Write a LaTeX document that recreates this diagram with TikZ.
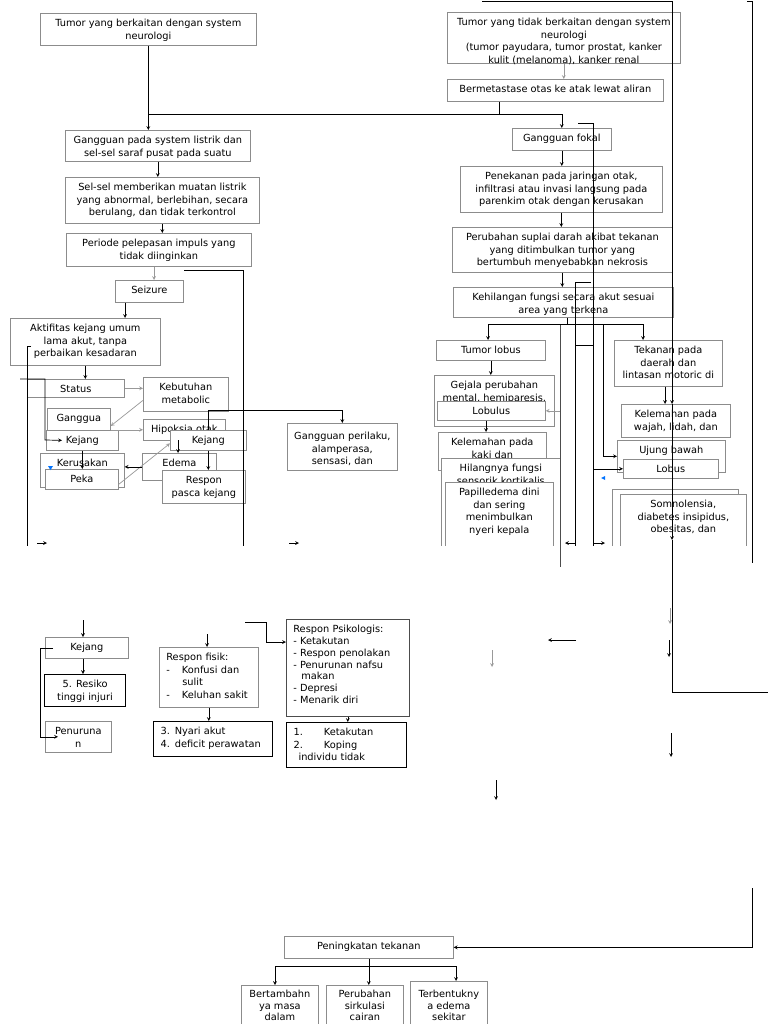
\documentclass[tikz,border=0pt]{standalone}
\usepackage{fontspec}
\setmainfont{DejaVu Sans}
\usepackage{tikz}
\usetikzlibrary{arrows}
\newcommand{\boxtext}[1]{\begin{tabular}[t]{@{}c@{}}#1\end{tabular}}

\begin{document}
\begin{tikzpicture}[
    x=1pt, y=-1pt,
    boxbase/.style={draw=black!45, fill=white, line width=0.7pt, anchor=north west, inner ysep=4pt, text height=9pt, font=\fontsize{9.8}{12.7}\selectfont},
    block/.style={boxbase, inner xsep=0pt},
    lblock/.style={boxbase, inner xsep=7pt, align=left},
    dark/.style={draw=black, line width=1.1pt},
    conn/.style={line width=0.7pt},
    arrow/.style={conn, ->, >=stealth},
    garrow/.style={arrow, black!40}
]
\fill[white] (0,0) rectangle (768,1024);
\useasboundingbox (0,0) rectangle (768,1024);
\clip (0,0) rectangle (768,1024);

% upper page (cut at the page break)
\begin{scope}
\clip (0,0) rectangle (768,545);

% left column: seizure path
\node[block, minimum width=216pt, text depth=15pt] (tumA) at (40,13) {\boxtext{Tumor yang berkaitan dengan system\\neurologi}};
\node[block, minimum width=185pt, text depth=14pt] (listrik) at (65,130) {\boxtext{Gangguan pada system listrik dan\\sel-sel saraf pusat pada suatu}};
\node[block, minimum width=194pt, text depth=29pt] (muatan) at (65,177) {\boxtext{Sel-sel memberikan muatan listrik\\yang abnormal, berlebihan, secara\\berulang, dan tidak terkontrol}};
\node[block, minimum width=185pt, text depth=16pt] (impuls) at (66,233) {\boxtext{Periode pelepasan impuls yang\\tidak diinginkan}};
\node[block, minimum width=68pt, text depth=5pt] (seizure) at (115,280) {\boxtext{Seizure}};
\node[block, minimum width=150pt, text depth=30pt] (aktif) at (10,318) {\boxtext{Aktifitas kejang umum\\lama akut, tanpa\\perbaikan kesadaran}};
\node[block, minimum width=97pt, text depth=1pt] (status) at (27,379) {\boxtext{Status}};
\node[block, minimum width=85pt, text depth=17pt] (kebutuhan) at (143,377) {\boxtext{Kebutuhan\\metabolic}};
\node[block, minimum width=63pt, text depth=11pt] (ganggua) at (47,408) {\boxtext{Ganggua}};
\node[block, minimum width=82pt, text depth=4pt] (hipoksia) at (143,419) {\boxtext{Hipoksia otak}};
\node[block, minimum width=72pt, text depth=3pt] (kejangA) at (46,430) {\boxtext{Kejang}};
\node[block, minimum width=76pt, text depth=3pt] (kejangB) at (170,430) {\boxtext{Kejang}};
\node[block, minimum width=84pt, text depth=17pt] (kerusakan) at (40,453) {\boxtext{Kerusakan}};
\node[block, minimum width=73pt, text depth=3pt] (peka) at (45,469) {\boxtext{Peka}};
\node[block, minimum width=74pt, text depth=10pt] (edema) at (142,453) {\boxtext{Edema}};
\node[block, minimum width=83pt, text depth=16pt] (respon) at (162,470) {\boxtext{Respon\\pasca kejang}};
\node[block, minimum width=110pt, text height=12pt, text depth=27pt] (perilaku) at (287,423) {\boxtext{Gangguan perilaku,\\alamperasa,\\sensasi, dan}};

% right column: focal path
\node[block, minimum width=233pt, text depth=34pt] (tumB) at (447,12) {\boxtext{Tumor yang tidak berkaitan dengan system\\neurologi\\(tumor payudara, tumor prostat, kanker\\kulit (melanoma), kanker renal}};
\node[block, minimum width=216pt, text depth=5pt] (metas) at (447,79) {\boxtext{Bermetastase otas ke atak lewat aliran}};
\node[block, minimum width=99pt, text depth=5pt] (fokal) at (512,128) {\boxtext{Gangguan fokal}};
\node[block, minimum width=202pt, text depth=29pt] (tekan) at (460,166) {\boxtext{Penekanan pada jaringan otak,\\infiltrasi atau invasi langsung pada\\parenkim otak dengan kerusakan}};
\node[block, minimum width=220pt, text depth=28pt] (suplai) at (452,227) {\boxtext{Perubahan suplai darah akibat tekanan\\yang ditimbulkan tumor yang\\bertumbuh menyebabkan nekrosis}};
\node[block, minimum width=220pt, text depth=13pt] (fungsi) at (453,287) {\boxtext{Kehilangan fungsi secara akut sesuai\\area yang terkena}};
\node[block, minimum width=109pt, text depth=3pt] (lobus1) at (436,340) {\boxtext{Tumor lobus}};
\node[block, minimum width=120pt, text depth=34pt] (gejala) at (434,375) {\boxtext{Gejala perubahan\\mental, hemiparesis,}};
\node[block, minimum width=108pt, text depth=2pt] (lobulus) at (437,401) {\boxtext{Lobulus}};
\node[block, minimum width=108pt, text depth=21pt] (kaki) at (438,432) {\boxtext{Kelemahan pada\\kaki dan}};
\node[block, minimum width=119pt, text depth=83pt] (hilang) at (441,458) {\boxtext{Hilangnya fungsi\\sensorik kortikalis}};
\node[block, minimum width=108pt, text depth=63pt] (papil) at (445,482) {\boxtext{Papilledema dini\\dan sering\\menimbulkan\\nyeri kepala}};
\node[block, minimum width=108pt, text depth=29pt] (tekanan) at (614,340) {\boxtext{Tekanan pada\\daerah dan\\lintasan motoric di}};
\node[block, minimum width=109pt, text depth=16pt] (wajah) at (621,404) {\boxtext{Kelemahan pada\\wajah, lidah, dan}};
\node[block, minimum width=108pt, text depth=15pt] (ujung) at (617,440) {\boxtext{Ujung bawah}};
\node[block, minimum width=95pt, text depth=2pt] (lobus2) at (623,459) {\boxtext{Lobus}};
\node[block, minimum width=126pt, text depth=63pt] (somnob) at (612,489) {};
\node[block, minimum width=126pt, text depth=63pt] (somno) at (620,494) {\boxtext{Somnolensia,\\diabetes insipidus,\\obesitas, dan}};

% joins at the top
\coordinate (m1) at (499,114);
\draw[conn] (m1 |- metas.south) -- (m1);
\draw[arrow] (tumA.south) -- (tumA.south |- listrik.north);
\draw[arrow] (tumA.south |- m1) -| (fokal.north);
\draw[garrow] (tumB.south) -- (tumB.south |- metas.north);

% left connections
\coordinate (sz) at (154,0);
\coordinate (sk) at (125,0);
\coordinate (ed) at (178,0);
\draw[arrow] (listrik.south) -- (listrik.south |- muatan.north);
\draw[arrow] (muatan.south) -- (muatan.south |- impuls.north);
\draw[garrow] (sz |- impuls.south) -- (sz |- seizure.north);
\coordinate (r1) at (184,270);
\coordinate (r2) at (243,560);
\draw[conn] (r1) -| (r2);
\draw[arrow] (sk |- seizure.south) -- (sk |- aktif.north);
\draw[arrow] (aktif.south) -- (aktif.south |- status.north);
\coordinate (l1) at (31,346);
\coordinate (l2) at (27,560);
\draw[conn] (l1) -| (l2);
\coordinate (l3) at (20,379);
\coordinate (l4) at (45,440);
\draw[arrow] (l3) -| (l4) -- ([xshift=16pt]kejangA.west);
\draw[garrow] (status.east) -- (status.east -| kebutuhan.west);
\draw[garrow] ([yshift=-6pt]kebutuhan.west) -- ([yshift=-18pt]ganggua.north east);
\draw[garrow] (ganggua.east |- hipoksia.west) -- (hipoksia.west);
\draw[arrow] (kejangA.south) -- (kejangA.south |- peka.north);
\draw[garrow] ([yshift=-5pt]peka.east) -- ([yshift=-3pt]kejangB.west);
\draw[arrow] (edema.west) -- (edema.west -| kerusakan.east);
\draw[arrow] (ed |- kejangB.center) -- (ed |- edema.north);
\draw[arrow] (kejangB.south) -- (kejangB.south |- respon.north);
\draw[arrow] (kejangB.north) -- ++(0,-20) -| (perilaku.north);
\coordinate (s1) at (37,543);
\coordinate (s2) at (47,543);
\draw[arrow] (s1) -- (s2);
\coordinate (s3) at (289,543);
\coordinate (s4) at (299,543);
\draw[arrow] (s3) -- (s4);

% right connections
\draw[arrow] (fokal.south) -- (fokal.south |- tekan.north);
\draw[arrow] (tekan.south) -- (tekan.south |- suplai.north);
\draw[arrow] (suplai.south) -- (suplai.south |- fungsi.north);
\coordinate (fb) at (567,324);
\coordinate (fc) at (603,324);
\coordinate (t1) at (488,0);
\coordinate (t2) at (643,0);
\coordinate (la) at (486,0);
\coordinate (tw) at (665,0);
\draw[conn] (fb |- fungsi.south) -- (fb);
\draw[arrow] (fb) -| (t1 |- lobus1.north);
\draw[arrow] (fb) -| (t2 |- tekanan.north);
\draw[arrow] (fc) |- (ujung.west);
\draw[arrow] (lobus1.south) -- (lobus1.south |- gejala.north);
\draw[arrow] (la |- lobulus.south) -- (la |- kaki.north);
\coordinate (va) at (560,325);
\draw[garrow] (va |- lobulus.east) -- (lobulus.east);
\draw[arrow] (tw |- tekanan.south) -- (tw |- wajah.north);
\coordinate (g1) at (578,123);
\coordinate (g2) at (593,560);
\draw[conn] (g1) -| (g2);
\draw[arrow] (g2 |- lobus2.west) -- (lobus2.west);
\coordinate (h1) at (591,282);
\coordinate (h2) at (575,560);
\coordinate (h3) at (575,345);
\draw[conn] (h1) -| (h2);
\draw[conn] (h3) -- (h3 -| g2);
\coordinate (q1) at (575,543);
\coordinate (q2) at (565,543);
\draw[arrow] (q1) -- (q2);
\coordinate (q3) at (593,543);
\coordinate (q4) at (605,543);
\draw[arrow] (q3) -- (q4);

% small anchor marks
\fill[blue!55!cyan] (48,466) -- (53,466) -- (50.5,470) -- cycle;
\fill[blue!55!cyan] (601,478) -- (605,476) -- (605,480) -- cycle;
\end{scope}

% long lines over the page break
\coordinate (vb) at (560,567);
\draw[conn, black!70] (va) -- (vb);
\coordinate (k1) at (482,1);
\coordinate (k2) at (672,692);
\coordinate (k3) at (768,692);
\coordinate (k4) at (672,540);
\draw[arrow] (k1) -| (k2 |- wajah.north);
\draw[arrow] (k2 |- wajah.north) -- (k4);
\draw[conn] (k4) -- (k2) -- (k3);
\coordinate (n1) at (747,1);
\coordinate (n2) at (752,563);
\draw[conn] (n1) -| (n2);

% lower page: nursing responses
\node[block, minimum width=83pt, text depth=4pt] (kejangC) at (45,637) {\boxtext{Kejang}};
\node[block, dark, minimum width=81pt, text depth=15pt] (resiko) at (44,674) {\boxtext{5. Resiko\\tinggi injuri}};
\node[block, minimum width=66pt, text depth=14pt] (penurunan) at (45,721) {\boxtext{Penuruna\\n}};
\node[lblock, text width=85pt, text depth=43pt] (fisik) at (159,647) {Respon fisik:\\-\hspace*{12pt}Konfusi dan\\\hspace*{16pt}sulit\\-\hspace*{12pt}Keluhan sakit};
\node[lblock, dark, text width=105pt, text depth=18pt] (nyeri) at (153,721) {3. Nyari akut\\4. deficit perawatan};
\node[lblock, draw=black!70, text width=109pt, text depth=80pt, font=\fontsize{9.8}{11.9}\selectfont] (psiko) at (286,619) {Respon Psikologis:\\- Ketakutan\\- Respon penolakan\\- Penurunan nafsu\\\hspace*{8pt}makan\\- Depresi\\- Menarik diri};
\node[lblock, dark, text width=106pt, text depth=28pt] (ketakutan) at (286,722) {1.\hspace*{21pt}Ketakutan\\2.\hspace*{21pt}Koping\\\hspace*{5pt}individu tidak};

\coordinate (u1) at (83,620);
\coordinate (u2) at (207,634);
\coordinate (u3) at (245,622);
\draw[arrow] (u1) -- (u1 |- kejangC.north);
\draw[arrow] (u1 |- kejangC.south) -- (u1 |- resiko.north);
\draw[arrow] ([xshift=8pt]kejangC.west) -- ++(-13,0) |- ([xshift=13pt]penurunan.west);
\draw[arrow] (u2) -- (u2 |- fisik.north);
\draw[arrow] (fisik.south) -- (fisik.south |- nyeri.north);
\draw[arrow] (u3) -- ++(21,0) |- ([yshift=-23pt]psiko.north west);
\draw[arrow] (psiko.south) -- (psiko.south |- ketakutan.north);

% loose arrows on the right
\coordinate (w1) at (576,640);
\coordinate (w2) at (548,640);
\coordinate (w3) at (492,650);
\coordinate (w4) at (492,667);
\coordinate (w5) at (670,608);
\coordinate (w6) at (670,624);
\coordinate (w7) at (669,640);
\coordinate (w8) at (669,657);
\coordinate (w9) at (671,733);
\coordinate (w10) at (671,757);
\coordinate (w11) at (496,780);
\coordinate (w12) at (496,800);
\draw[arrow] (w1) -- (w2);
\draw[garrow] (w3) -- (w4);
\draw[garrow] (w5) -- (w6);
\draw[arrow] (w7) -- (w8);
\draw[arrow] (w9) -- (w10);
\draw[arrow] (w11) -- (w12);

% raised pressure
\node[block, minimum width=169pt, text depth=5pt] (peningkatan) at (284,936) {\boxtext{Peningkatan tekanan}};
\node[block, minimum width=77pt, text height=8pt, text depth=43pt, font=\fontsize{9.8}{11.8}\selectfont] (bertambah) at (241,985) {\boxtext{Bertambahn\\ya masa\\dalam}};
\node[block, minimum width=77pt, text height=8pt, text depth=43pt, font=\fontsize{9.8}{11.8}\selectfont] (perubahan) at (326,985) {\boxtext{Perubahan\\sirkulasi\\cairan}};
\node[block, minimum width=77pt, text height=12pt, text depth=43pt, font=\fontsize{9.8}{11.8}\selectfont] (terbentuk) at (410,981) {\boxtext{Terbentukny\\a edema\\sekitar}};

\coordinate (z1) at (752,888);
\coordinate (b1) at (275,0);
\coordinate (b3) at (456,0);
\draw[arrow] (z1) |- (peningkatan.east);
\draw[conn] (peningkatan.south) -- ++(0,8) coordinate (pj);
\draw[arrow] (pj) -| (b1 |- bertambah.north);
\draw[arrow] (pj) -- (pj |- perubahan.north);
\draw[arrow] (pj) -| (b3 |- terbentuk.north);

\end{tikzpicture}
\end{document}
